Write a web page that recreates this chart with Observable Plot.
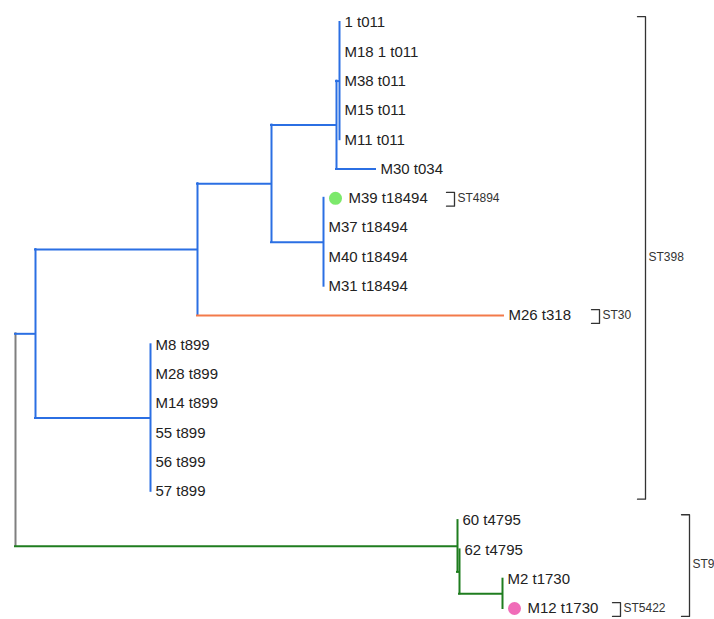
<!DOCTYPE html>
<html><head><meta charset="utf-8">
<script src="https://cdn.jsdelivr.net/npm/d3@7"></script>
<script src="https://cdn.jsdelivr.net/npm/@observablehq/plot@0.6"></script>
<style>html,body{margin:0;padding:0;background:#fff}</style>
</head><body><div id="chart"></div>
<script>
// Leaf order, top to bottom
const leafOrder = ["1 t011","M18 1 t011","M38 t011","M15 t011","M11 t011","M30 t034",
  "M39 t18494","M37 t18494","M40 t18494","M31 t18494","M26 t318",
  "M8 t899","M28 t899","M14 t899","55 t899","56 t899","57 t899",
  "60 t4795","62 t4795","M2 t1730","M12 t1730"];

// Tree topology: node, parent, branch length, lineage
const nodeName   = ["root","n1","A","T","B","M26 t318","C","D","E","M30 t034",
  "1 t011","M18 1 t011","M38 t011","M15 t011","M11 t011",
  "M39 t18494","M37 t18494","M40 t18494","M31 t18494",
  "M8 t899","M28 t899","M14 t899","55 t899","56 t899","57 t899",
  "F","60 t4795","F2","62 t4795","G","M2 t1730","M12 t1730"];
const nodeParent = [null,"root","n1","n1","A","A","B","B","C","C",
  "E","E","E","E","E",
  "D","D","D","D",
  "T","T","T","T","T","T",
  "root","F","F","F2","F2","G","G"];
const branchLength = [0,0.020,0.162,0.115,0.074,0.306,0.065,0.052,0.003,0.039,
  0,0,0,0,0,
  0,0,0,0,
  0,0,0,0,0,0,
  0.442,0,0.002,0,0.043,0,0];
const lineage = ["root","ST398","ST398","ST398","ST398","ST30","ST398","ST398","ST398","ST398",
  "ST398","ST398","ST398","ST398","ST398",
  "ST398","ST398","ST398","ST398",
  "ST398","ST398","ST398","ST398","ST398","ST398",
  "ST9","ST9","ST9","ST9","ST9","ST9","ST9"];

// Marked isolates
const markedLeaf = ["M39 t18494","M12 t1730"];
const markedST   = ["ST4894","ST5422"];

// Sequence-type brackets
const stName  = ["ST398","ST30","ST4894","ST9","ST5422"];
const stFirst = ["1 t011","M26 t318","M39 t18494","60 t4795","M12 t1730"];
const stLast  = ["57 t899","M26 t318","M39 t18494","M12 t1730","M12 t1730"];
const stX     = [0.630,0.584,0.439,0.674,0.605];

// Colour mapping
const colorDomain = ["root","ST398","ST30","ST9","ST4894","ST5422"];
const colorRange  = ["#7f7f7f","#2b6fe3","#f37a4a","#1f7d1f","#7ce96b","#f06cb8"];

// ---- build layout ----
const rows = nodeName.map((name,i)=>({name, parent:nodeParent[i], length:branchLength[i], lineage:lineage[i]}));
const root = d3.stratify().id(d=>d.name).parentId(d=>d.parent)(rows);
root.eachBefore(n => { n.depthX = n.parent ? n.parent.depthX + n.data.length : 0; });
root.eachAfter(n => {
  if (!n.children) n.yy = leafOrder.indexOf(n.data.name);
  else { const ys = n.children.map(c=>c.yy); n.yy = (d3.min(ys)+d3.max(ys))/2; }
});
const all = root.descendants();
const verticals = all.filter(n=>n.children).map(n=>({
  x:n.depthX, y1:d3.min(n.children,c=>c.yy), y2:d3.max(n.children,c=>c.yy), lineage:n.data.lineage}));
const horizontals = all.filter(n=>n.parent && n.data.length>0).map(n=>({
  y:n.yy, x1:n.parent.depthX, x2:n.depthX, lineage:n.data.lineage}));
const leaves = root.leaves().map(n=>({name:n.data.name, x:n.depthX, y:n.yy,
  marker: markedST[markedLeaf.indexOf(n.data.name)]}));
const plain = leaves.filter(d=>!d.marker);
const marked = leaves.filter(d=>d.marker);

const brackets = [], stLabels = [];
stName.forEach((s,i)=>{
  const a = leafOrder.indexOf(stFirst[i]) - 0.2, b = leafOrder.indexOf(stLast[i]) + 0.27, x = stX[i], t = 0.008;
  brackets.push({s,x:x-t,y:a},{s,x:x,y:a},{s,x:x,y:b},{s,x:x-t,y:b});
  stLabels.push({s, x, y:(leafOrder.indexOf(stFirst[i])+leafOrder.indexOf(stLast[i]))/2});
});

const chart = Plot.plot({
  width:714, height:619,
  marginLeft:15, marginRight:0, marginTop:22, marginBottom:11,
  x:{domain:[0,0.699], axis:null},
  y:{domain:[0,20], reverse:true, axis:null},
  color:{domain:colorDomain, range:colorRange},
  style:{fontFamily:"'Liberation Sans', Arial, sans-serif", background:"#fff", overflow:"visible"},
  marks:[
    Plot.ruleX(verticals,{x:"x", y1:"y1", y2:"y2", stroke:"lineage", strokeWidth:2, strokeLinecap:"square"}),
    Plot.ruleY(horizontals,{y:"y", x1:"x1", x2:"x2", stroke:"lineage", strokeWidth:2, strokeLinecap:"square"}),
    Plot.text(plain,{x:"x", y:"y", text:"name", textAnchor:"start", dx:5, fontSize:15, fill:"#222"}),
    Plot.dot(marked,{x:"x", y:"y", fill:"marker", r:6.5, dx:12}),
    Plot.text(marked,{x:"x", y:"y", text:"name", textAnchor:"start", dx:25, fontSize:15, fill:"#222"}),
    Plot.line(brackets,{x:"x", y:"y", z:"s", stroke:"#333", strokeWidth:1.3}),
    Plot.text(stLabels,{x:"x", y:"y", text:"s", textAnchor:"start", dx:3, fontSize:12, fill:"#333"})
  ]
});
document.getElementById("chart").appendChild(chart);
</script>
</body></html>
